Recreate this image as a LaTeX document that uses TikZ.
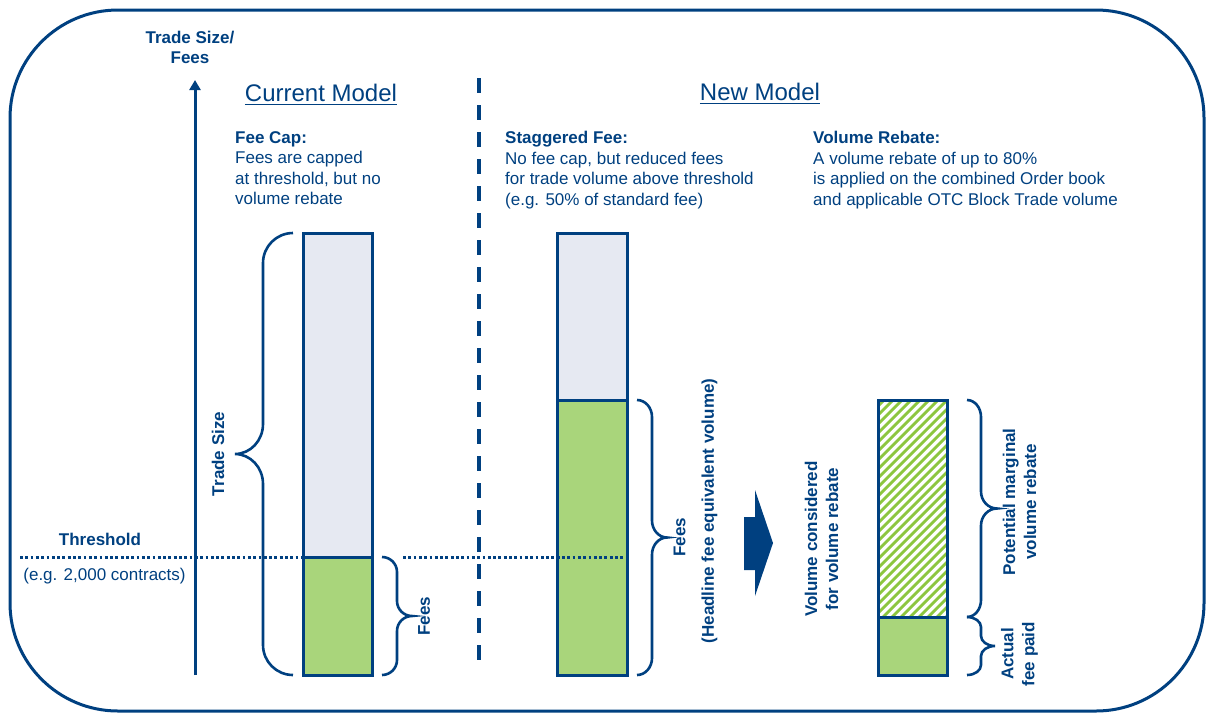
\documentclass[tikz,border=0pt]{standalone}
\usepackage{fontspec}
\setmainfont{Liberation Sans}
\usetikzlibrary{arrows.meta}
\definecolor{dblue}{RGB}{0,64,128}
\definecolor{barfill}{RGB}{230,233,242}
\definecolor{feegreen}{RGB}{169,213,123}
\definecolor{hatchgreen}{RGB}{141,198,63}
% #1 x ends, #2 x middle, #3 x tip, #4 y top, #5 y bottom, #6 curl length
\newcommand\mybrace[6]{%
  \draw[bracestyle]
    (#1,#4) .. controls ({#1+0.552*(#2-#1)},#4) and (#2,{#4+0.448*#6}) .. (#2,{#4+#6})
    -- (#2,{(#4+#5)/2-#6})
    .. controls (#2,{(#4+#5)/2-0.448*#6}) and ({#2+0.448*(#3-#2)},{(#4+#5)/2}) .. (#3,{(#4+#5)/2})
    .. controls ({#2+0.448*(#3-#2)},{(#4+#5)/2}) and (#2,{(#4+#5)/2+0.448*#6}) .. (#2,{(#4+#5)/2+#6})
    -- (#2,{#5-#6})
    .. controls (#2,{#5-0.448*#6}) and ({#1+0.552*(#2-#1)},#5) .. (#1,#5);}
\begin{document}
\begin{tikzpicture}[x=1pt,y=-1pt,
  txt/.style={text=dblue,font=\fontsize{17}{20.5}\selectfont,inner sep=0pt},
  btxt/.style={text=dblue,font=\fontsize{17}{21}\selectfont\bfseries,inner sep=0pt},
  title/.style={text=dblue,font=\fontsize{24}{28}\selectfont,inner sep=0pt},
  bracestyle/.style={draw=dblue,line width=2.6pt},
  barline/.style={draw=dblue,line width=3pt},
  dotline/.style={draw=dblue,line width=3pt,dash pattern=on 2.8pt off 2.5pt}]
\useasboundingbox (0,0) rectangle (1206,713);
% outer frame
\draw[dblue,line width=3pt,rounded corners=108pt] (10,10) rectangle (1204,711);
% axis
\draw[dblue,line width=3pt,-{Triangle[length=10pt,width=11pt]}] (195,675) -- (195,80);
\node[btxt,anchor=base] (tsf1) at (190,43) {Trade Size/};
\node[btxt,anchor=base] (tsf2) at (190,63) {Fees};
% separator
\draw[dblue,line width=4pt,dash pattern=on 15pt off 12pt] (479,78) -- (479,665);
% titles
\node[title,anchor=base] (cm) at (321,101) {Current Model};
\draw[dblue,line width=1.4pt] ([yshift=-3.5pt]cm.base west) -- ([yshift=-3.5pt]cm.base east);
\node[title,anchor=base] (nm) at (760,100) {New Model};
\draw[dblue,line width=1.4pt] ([yshift=-3.5pt]nm.base west) -- ([yshift=-3.5pt]nm.base east);
% description blocks
\node[txt,align=left,anchor=north west] (fc) at (235,131) {\textbf{Fee Cap:}\\Fees are capped\\at threshold, but no\\volume rebate};
\node[txt,align=left,anchor=north west] (sf) at (505,131) {\textbf{Staggered Fee:}\\No fee cap, but reduced fees\\for trade volume above threshold\\(e.g. 50\% of standard fee)};
\node[txt,align=left,anchor=north west] (vr) at (813,131) {\textbf{Volume Rebate:}\\A volume rebate of up to 80\%\\is applied on the combined Order book\\and applicable OTC Block Trade volume};
% threshold
\node[btxt,anchor=base] (th) at (100,545) {Threshold};
\node[txt,anchor=base] (eg) at (104.5,580) {(e.g. 2,000 contracts)};
% bar fills
\fill[barfill] (303,233) rectangle (372,557);
\fill[feegreen] (303,557) rectangle (372,675);
\fill[barfill] (557,233) rectangle (627,400);
\fill[feegreen] (557,400) rectangle (627,675);
\fill[feegreen] (878,617) rectangle (947,675);
\begin{scope}
\clip (878,400) rectangle (947,617);
\foreach \k in {-2,...,34}
  \draw[hatchgreen,line width=2.8pt] ({878-220+\k*9},617) -- ++(240,-240);
\end{scope}
% threshold dotted lines
\draw[dotline] (20,557) -- (372,557);
\draw[dotline] (403,557) -- (623,557);
% bar outlines
\draw[barline] (303,233) rectangle (372,675);
\draw[barline] (303,557) -- (372,557);
\draw[barline] (557,233) rectangle (627,675);
\draw[barline] (557,400) -- (627,400);
\draw[barline] (878,400) rectangle (947,675);
\draw[barline] (878,617) -- (947,617);
% braces
\mybrace{293}{263}{235}{233}{675}{30}
\mybrace{382}{397}{412}{557}{675}{15}
\mybrace{637}{652}{667}{400}{675}{17}
\mybrace{967}{981}{997}{400}{617}{17}
\mybrace{967}{981}{995}{617}{675}{10}
% block arrow
\fill[dblue] (744,517) -- (755,517) -- (755,490) -- (773,543) -- (755,596) -- (755,570) -- (744,570) -- cycle;
% rotated labels
\node[btxt,rotate=90] (ts) at (218,454) {Trade Size};
\node[btxt,rotate=90] (f1) at (424,616) {Fees};
\node[btxt,rotate=90] (f2) at (679.5,537) {Fees};
\node[btxt,rotate=90] (hl) at (709.5,511) {(Headline fee equivalent volume)};
\node[btxt,rotate=90,align=center] (vc) at (821.5,539) {Volume considered\\for volume rebate};
\node[btxt,rotate=90,align=center] (pm) at (1019.5,502) {Potential marginal\\volume rebate};
\node[btxt,rotate=90,align=center] (af) at (1019.5,654) {Actual\\fee paid};
\end{tikzpicture}
\end{document}
